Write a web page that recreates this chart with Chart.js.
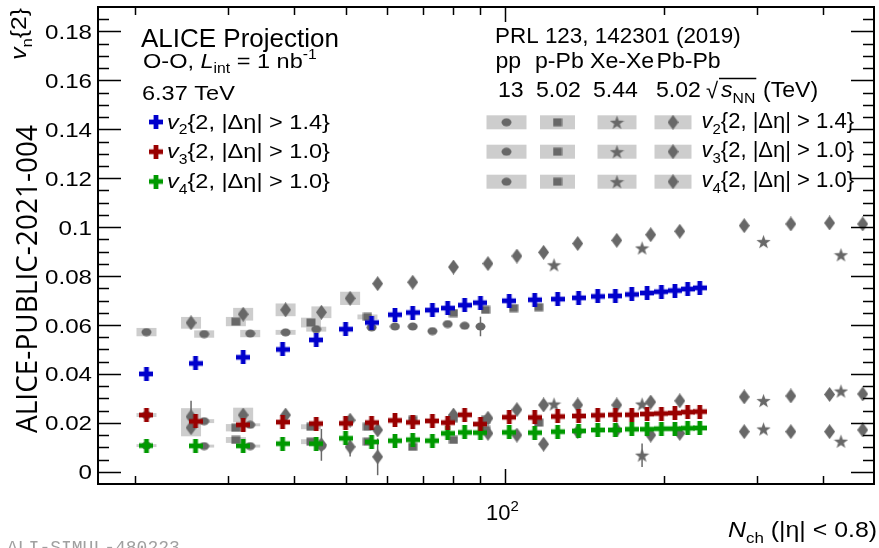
<!DOCTYPE html>
<html>
<head>
<meta charset="utf-8">
<script src="https://cdn.jsdelivr.net/npm/chart.js@4.4.1/dist/chart.umd.min.js"></script>
<style>
  html, body { margin: 0; padding: 0; background: #fff; }
  canvas { display: block; }
</style>
</head>
<body>
<canvas id="chart" width="879" height="548"></canvas>
<script>
// O-O projection (6.37 TeV)
const ooNch = [21, 26, 32, 38, 44, 50, 56, 62, 67, 73, 78, 84, 90, 102, 114, 126, 138, 150, 162, 174, 186, 198, 210, 222, 234];
const ooV2 = [0.0400, 0.0443, 0.0468, 0.0500, 0.0539, 0.0583, 0.0610, 0.0642, 0.0651, 0.0661, 0.0669, 0.0681, 0.0691, 0.0699, 0.0703, 0.0706, 0.0711, 0.0717, 0.0719, 0.0725, 0.0731, 0.0736, 0.0741, 0.0747, 0.0752];
const ooV3 = [0.0232, 0.0206, 0.0192, 0.0203, 0.0197, 0.0198, 0.0201, 0.0210, 0.0202, 0.0208, 0.0201, 0.0233, 0.0195, 0.0223, 0.0222, 0.0226, 0.0228, 0.0231, 0.0233, 0.0233, 0.0236, 0.0238, 0.0240, 0.0244, 0.0246];
const ooV4 = [0.0107, 0.0106, 0.0106, 0.0115, 0.0115, 0.0137, 0.0122, 0.0127, 0.0131, 0.0127, 0.0157, 0.0161, 0.0160, 0.0161, 0.0160, 0.0164, 0.0167, 0.0171, 0.0171, 0.0174, 0.0174, 0.0176, 0.0176, 0.0178, 0.0179];

// pp 13 TeV (circles)
const ppNch2 = [21, 27, 33, 38.5, 44, 56, 62, 67, 73, 78, 84, 90];
const ppV2 = [0.0571, 0.0563, 0.0565, 0.0570, 0.0583, 0.0590, 0.0594, 0.0594, 0.0575, 0.0604, 0.0597, 0.0594];
const ppV2Err = [0, 0, 0, 0, 0, 0, 0, 0, 0, 0, 0, 0.004];
const ppV2Sys = [0.0017, 0.0015, 0.0015, 0.001, 0.001, 0, 0, 0, 0, 0, 0, 0];
const ppNch3 = [21, 27, 33];
const ppV3 = [0.0232, 0.0207, 0.0192];
const ppV3Sys = [0.0008, 0.0008, 0.0006];
const ppNch4 = [21, 27, 33, 45];
const ppV4 = [0.0107, 0.0105, 0.0105, 0.0105];
const ppV4Sys = [0.0006, 0.0006, 0.0006, 0];

// p-Pb 5.02 TeV (squares)
const pPbNch2 = [31, 43, 55, 80, 92, 104, 116];
const pPbV2 = [0.0614, 0.0610, 0.0633, 0.0649, 0.0662, 0.0669, 0.0673];
const pPbV2Sys = [0.0019, 0.002, 0.001, 0, 0, 0, 0];
const pPbNch3 = [31, 43, 55, 67, 80, 92, 116];
const pPbV3 = [0.0180, 0.0184, 0.0184, 0.0212, 0.0219, 0.0212, 0.0201];
const pPbV3Sys = [0.0015, 0.001, 0, 0, 0, 0, 0];
const pPbNch4 = [31, 43, 55, 67, 80, 92];
const pPbV4 = [0.0130, 0.0123, 0.0123, 0.0102, 0.0130, 0.0171];
const pPbV4Sys = [0.0012, 0.001, 0, 0, 0, 0];

// Xe-Xe 5.44 TeV (stars)
const xeNch = [124, 182, 309, 433];
const xeV2 = [0.0846, 0.0915, 0.0941, 0.0887];
const xeV3 = [0.0277, 0.0277, 0.0291, 0.0330];
const xeV4 = [null, 0.0068, 0.0175, 0.0125];
const xeV4Err = [0, 0.0048, 0, 0];

// Pb-Pb 5.02 TeV (diamonds)
const pbNch = [25.5, 32, 38.5, 45, 51, 57.5, 67, 80, 93, 105.5, 118.5, 137.5, 163, 189, 214.5, 284, 348, 412, 476];
const pbV2 = [0.0609, 0.0644, 0.0662, 0.0652, 0.0709, 0.0769, 0.0775, 0.0837, 0.0851, 0.0882, 0.0897, 0.0933, 0.0946, 0.0969, 0.0983, 0.1006, 0.1013, 0.1017, 0.1013];
const pbV2Sys = [0.0024, 0.0026, 0.0026, 0.0024, 0.0027, 0, 0, 0, 0, 0, 0, 0, 0, 0, 0, 0, 0, 0, 0];
const pbV3 = [0.0225, 0.0232, 0.0232, null, 0.0211, 0.0171, null, 0.0232, 0.0219, 0.0254, 0.0273, 0.0273, 0.0273, 0.0285, 0.0290, 0.0306, 0.0310, 0.0316, 0.0318];
const pbV3Err = [0.0065, 0, 0, 0, 0, 0, 0, 0, 0, 0, 0, 0, 0, 0, 0, 0, 0, 0, 0];
const pbV3Sys = [0.0035, 0.003, 0, 0, 0, 0, 0, 0, 0, 0, 0, 0, 0, 0, 0, 0, 0, 0, 0];
const pbV4 = [0.0180, null, null, 0.0110, 0.0102, 0.0061, null, null, 0.0157, 0.0150, 0.0113, 0.0164, 0.0171, 0.0150, 0.0157, 0.0164, 0.0164, 0.0164, 0.0171];
const pbV4Err = [0, 0, 0, 0.0065, 0.004, 0.0075, 0, 0, 0, 0, 0, 0, 0, 0, 0, 0, 0, 0, 0];
const pbV4Sys = [0.0035, 0, 0, 0, 0, 0, 0, 0, 0, 0, 0, 0, 0, 0, 0, 0, 0, 0, 0];

// axis ticks
const yMajor = [0, 0.02, 0.04, 0.06, 0.08, 0.1, 0.12, 0.14, 0.16, 0.18];
const yLabels = ['0', '0.02', '0.04', '0.06', '0.08', '0.1', '0.12', '0.14', '0.16', '0.18'];
const xMinor = [20, 30, 40, 50, 60, 70, 80, 90, 200, 300, 400];

const FONT = '"Liberation Sans", Arial, sans-serif';
const BLUE = '#0000cc', RED = '#990000', GREEN = '#009900', GRAY = '#686868', BOX = '#cdcdcd';

function marker(shape, color) {
  const sizes = {plus: [14, 14], circle: [11, 9], square: [10, 9], diamond: [11, 15], star: [15, 15]};
  const [w, h] = sizes[shape];
  const c = document.createElement('canvas');
  c.width = w; c.height = h;
  const g = c.getContext('2d');
  g.fillStyle = color;
  if (shape === 'plus') {
    const t = 4.8;
    g.fillRect((w - t) / 2, 0, t, h);
    g.fillRect(0, (h - t) / 2, w, t);
  } else if (shape === 'circle') {
    g.beginPath(); g.ellipse(w / 2, h / 2, w / 2 - 0.5, h / 2 - 0.5, 0, 0, 2 * Math.PI); g.fill();
  } else if (shape === 'square') {
    g.fillRect(0.5, 0.5, w - 1, h - 1);
  } else if (shape === 'diamond') {
    g.beginPath(); g.moveTo(w / 2, 0); g.lineTo(w, h / 2); g.lineTo(w / 2, h); g.lineTo(0, h / 2); g.closePath(); g.fill();
  } else {
    g.beginPath();
    for (let i = 0; i < 10; i++) {
      const r = i % 2 ? w * 0.2 : w / 2;
      const a = -Math.PI / 2 + i * Math.PI / 5;
      g.lineTo(w / 2 + r * Math.cos(a), h / 2 + 0.8 + r * Math.sin(a));
    }
    g.closePath(); g.fill();
  }
  return c;
}

const mk = {
  blue: marker('plus', BLUE), red: marker('plus', RED), green: marker('plus', GREEN),
  circle: marker('circle', GRAY), square: marker('square', GRAY), star: marker('star', GRAY), diamond: marker('diamond', GRAY)
};

function pts(xs, ys) {
  return xs.map((x, i) => ({x: x, y: ys[i]})).filter(p => p.y !== null);
}

// reference series with error bars / systematic boxes
const refSeries = [
  {x: ppNch2, y: ppV2, err: ppV2Err, sys: ppV2Sys, style: mk.circle},
  {x: ppNch3, y: ppV3, sys: ppV3Sys, style: mk.circle},
  {x: ppNch4, y: ppV4, sys: ppV4Sys, style: mk.circle},
  {x: pPbNch2, y: pPbV2, sys: pPbV2Sys, style: mk.square},
  {x: pPbNch3, y: pPbV3, sys: pPbV3Sys, style: mk.square},
  {x: pPbNch4, y: pPbV4, sys: pPbV4Sys, style: mk.square},
  {x: xeNch, y: xeV2, style: mk.star},
  {x: xeNch, y: xeV3, style: mk.star},
  {x: xeNch, y: xeV4, err: xeV4Err, style: mk.star},
  {x: pbNch, y: pbV2, sys: pbV2Sys, style: mk.diamond},
  {x: pbNch, y: pbV3, err: pbV3Err, sys: pbV3Sys, style: mk.diamond},
  {x: pbNch, y: pbV4, err: pbV4Err, sys: pbV4Sys, style: mk.diamond}
];

const datasets = [
  {data: pts(ooNch, ooV2), pointStyle: mk.blue},
  {data: pts(ooNch, ooV3), pointStyle: mk.red},
  {data: pts(ooNch, ooV4), pointStyle: mk.green}
].concat(refSeries.map(s => ({data: pts(s.x, s.y), pointStyle: s.style})));
datasets.forEach(d => { d.pointRadius = 4; d.showLine = false; });

function rich(g, x, y, parts, size, sx, align) {
  const fontFor = k => (k.includes('i') ? 'italic ' : '') +
    ((k.includes('_') || k.includes('^')) ? Math.round(size * 0.68) : size) + 'px ' + FONT;
  let w = 0;
  parts.forEach(([t, k]) => { g.font = fontFor(k); w += g.measureText(t).width; });
  g.save();
  g.translate(x, y);
  g.scale(sx || 1, 1);
  let cx = align === 'right' ? -w : align === 'center' ? -w / 2 : 0;
  parts.forEach(([t, k]) => {
    g.font = fontFor(k);
    const dy = k.includes('_') ? size * 0.28 : k.includes('^') ? -size * 0.42 : 0;
    g.fillText(t, cx, dy);
    cx += g.measureText(t).width;
  });
  g.restore();
  return w * (sx || 1);
}

const bands = {
  id: 'bands',
  beforeDatasetsDraw(chart) {
    const g = chart.ctx, xs = chart.scales.x, ys = chart.scales.y;
    g.save();
    refSeries.forEach(s => {
      s.x.forEach((nx, i) => {
        const v = s.y[i];
        if (v === null) return;
        const px = xs.getPixelForValue(nx);
        if (s.sys && s.sys[i] > 0) {
          const top = ys.getPixelForValue(v + s.sys[i]), bot = ys.getPixelForValue(v - s.sys[i]);
          g.fillStyle = BOX;
          g.fillRect(px - 10, top, 20, bot - top);
        }
      });
    });
    refSeries.forEach(s => {
      if (!s.err) return;
      s.x.forEach((nx, i) => {
        const v = s.y[i];
        if (v === null || !(s.err[i] > 0)) return;
        const px = xs.getPixelForValue(nx);
        g.strokeStyle = GRAY; g.lineWidth = 1.5;
        g.beginPath();
        g.moveTo(px, ys.getPixelForValue(v + s.err[i]));
        g.lineTo(px, ys.getPixelForValue(v - s.err[i]));
        g.stroke();
      });
    });
    g.restore();
  }
};

const frame = {
  id: 'frame',
  afterDatasetsDraw(chart) {
    const g = chart.ctx, a = chart.chartArea, xs = chart.scales.x, ys = chart.scales.y;
    g.save();
    g.strokeStyle = '#000';
    g.fillStyle = '#000';
    // y ticks, both sides
    g.lineWidth = 1.5;
    for (let v = 0; v <= 0.19; v += 0.005) {
      const major = Math.abs(v / 0.02 - Math.round(v / 0.02)) < 1e-6;
      const py = Math.round(ys.getPixelForValue(v)) + 0.5;
      const len = major ? 23 : 11;
      g.beginPath();
      g.moveTo(a.left, py); g.lineTo(a.left + len, py);
      g.moveTo(a.right, py); g.lineTo(a.right - len, py);
      g.stroke();
    }
    // x ticks, top and bottom
    xMinor.concat([100]).forEach(n => {
      const px = Math.round(xs.getPixelForValue(n)) + 0.5;
      const len = n === 100 ? 15 : 8;
      g.beginPath();
      g.moveTo(px, a.bottom); g.lineTo(px, a.bottom - len);
      g.moveTo(px, a.top); g.lineTo(px, a.top + len);
      g.stroke();
    });
    g.lineWidth = 2;
    g.strokeRect(a.left, a.top, a.right - a.left, a.bottom - a.top);

    // tick labels
    g.textBaseline = 'alphabetic';
    yMajor.forEach((v, i) => {
      const py = ys.getPixelForValue(v);
      rich(g, 92, py + 7.5, [[yLabels[i], 'n']], 21, 1.15, 'right');
    });
    rich(g, 486, 520, [['10', 'n'], ['2', '^']], 22, 1.0, 'left');

    // axis titles
    rich(g, 877, 537, [['N', 'i'], ['ch', '_'], [' (|\u03b7| < 0.8)', 'n']], 22, 1.13, 'right');
    g.save();
    g.translate(26, 8);
    g.rotate(-Math.PI / 2);
    rich(g, 0, 0, [['v', 'i'], ['n', '_'], ['{2}', 'n']], 22, 1.12, 'right');
    g.restore();

    // ALICE label along the left
    g.save();
    g.translate(37, 433);
    g.rotate(-Math.PI / 2);
    g.font = '30px "Open Sans", "Noto Sans", sans-serif';
    const lw = g.measureText('ALICE-PUBLIC-2021-004').width;
    g.scale(308 / lw, 1);
    g.fillText('ALICE-PUBLIC-2021-004', 0, 0);
    g.restore();

    // left legend block
    rich(g, 141, 46.5, [['ALICE Projection', 'n']], 25, 1.04);
    rich(g, 143, 67.5, [['O-O, ', 'n'], ['L', 'i'], ['int', '_'], [' = 1 nb', 'n'], ['-1', '^']], 21, 1.12);
    rich(g, 142, 100, [['6.37 TeV', 'n']], 21, 1.12);
    const ooRows = [[mk.blue, '2', '1.4', 122], [mk.red, '3', '1.0', 151.7], [mk.green, '4', '1.0', 181.5]];
    ooRows.forEach(([img, n, cut, cy]) => {
      g.drawImage(img, 156 - img.width / 2, cy - img.height / 2);
      rich(g, 167, cy + 6.5, [['v', 'i'], [n, '_'], ['{2, |\u0394\u03b7| > ' + cut + '}', 'n']], 21, 1.12);
    });

    // right legend block
    rich(g, 495, 42.5, [['PRL 123, 142301 (2019)', 'n']], 22, 1.02);
    [['pp', 495.5], ['p-Pb', 535], ['Xe-Xe', 590], ['Pb-Pb', 656.5]].forEach(([t, x]) => rich(g, x, 68.3, [[t, 'n']], 22, 1.05));
    [['13', 498], ['5.02', 536], ['5.44', 593], ['5.02', 656]].forEach(([t, x]) => rich(g, x, 97, [[t, 'n']], 22, 1.05));
    // sqrt(s_NN)
    g.font = '22px ' + FONT;
    g.fillText('\u221a', 706, 98);
    const sw = rich(g, 721, 97, [['s', 'i'], ['NN', '_']], 22, 1.05);
    g.lineWidth = 1.3;
    g.beginPath(); g.moveTo(719, 78.5); g.lineTo(721 + sw + 1, 78.5); g.stroke();
    rich(g, 763, 97, [['(TeV)', 'n']], 22, 1.05);

    const refRows = [['2', '1.4', 122.3], ['3', '1.0', 151.7], ['4', '1.0', 181.7]];
    const cols = [[486.5, 526.5, mk.circle], [540, 575, mk.square], [597.5, 636.5, mk.star], [654.5, 691.5, mk.diamond]];
    refRows.forEach(([n, cut, cy]) => {
      cols.forEach(([x0, x1, img]) => {
        g.fillStyle = BOX;
        g.fillRect(x0, cy - 7, x1 - x0, 14);
        g.drawImage(img, (x0 + x1) / 2 - img.width / 2, cy - img.height / 2);
      });
      g.fillStyle = '#000';
      rich(g, 701.5, cy + 5.5, [['v', 'i'], [n, '_'], ['{2, |\u0394\u03b7| > ' + cut + '}', 'n']], 22, 1.0);
    });

    // simulation id at the bottom
    g.fillStyle = '#a0a0a0';
    g.font = '18px "Liberation Mono", monospace';
    g.fillText('ALI-SIMUL-480223', 7, 553);
    g.restore();
  }
};

const ctx = document.getElementById('chart').getContext('2d');
const myChart = new Chart(ctx, {
  type: 'scatter',
  data: {datasets: datasets},
  options: {
    responsive: false,
    animation: false,
    layout: {padding: {left: 98, right: 2, top: 7, bottom: 64}},
    plugins: {legend: {display: false}, tooltip: {enabled: false}},
    scales: {
      x: {type: 'logarithmic', min: 17, max: 500, display: false},
      y: {type: 'linear', min: -0.005, max: 0.19, display: false}
    }
  },
  plugins: [bands, frame]
});
</script>
</body>
</html>
